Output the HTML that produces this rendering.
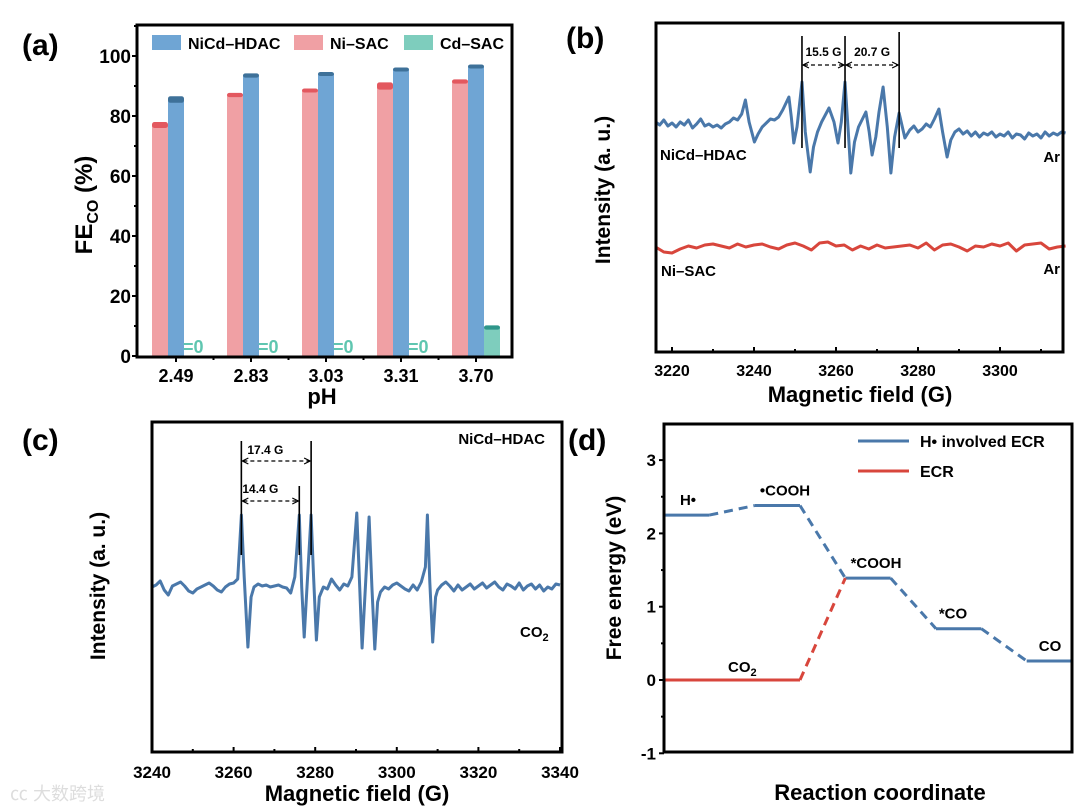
<!DOCTYPE html>
<html><head><meta charset="utf-8">
<style>
html,body{margin:0;padding:0;background:#fff;}
svg{display:block;font-family:"Liberation Sans","Noto Sans CJK SC",sans-serif;font-weight:bold;}
</style></head>
<body>
<svg id="fig" width="1080" height="808" viewBox="0 0 1080 808" xmlns="http://www.w3.org/2000/svg">
<rect width="1080" height="808" fill="#fff"/>
<text x="22" y="55" font-size="30">(a)</text>
<text x="566" y="48" font-size="30">(b)</text>
<text x="22" y="450" font-size="30">(c)</text>
<text x="568" y="450" font-size="30">(d)</text>
<g id="pa"></g>
<g id="pb"></g>
<g id="pc"></g>
<g id="pd"></g>
<text x="10" y="800" font-size="18" fill="#ddd" font-weight="normal">㏄ 大数跨境</text>
</svg>
<script>
// ---------- Panel (a) data ----------
const aCategories = ["2.49","2.83","3.03","3.31","3.70"];
const aNiSAC = [77, 87, 88.5, 90, 91.5];
const aNiSACErr = [1.0, 0.7, 0.6, 1.2, 0.7];
const aNiCd = [85.5, 93.5, 94, 95.5, 96.5];
const aNiCdErr = [1.1, 0.7, 0.6, 0.6, 0.6];
const aCdSAC = [0, 0, 0, 0, 9.5];
const aCdSACErr = [0, 0, 0, 0, 0.7];
const aYTicks = [0, 20, 40, 60, 80, 100];
// ---------- Panel (b) data ----------
const bNiCdField = [3216,3217,3218,3219,3220,3221,3222,3223,3224,3225,3226,3227,3228,3229,3230,3231,3232,3233,3234,3235,3236,3237,3237.9,3238.8,3240.1,3241,3242,3243,3244,3245,3246,3247,3248.5,3249.1,3249.7,3250.5,3251.7,3252.5,3253.7,3254.5,3255.5,3256.5,3258.3,3259.5,3260.5,3261.3,3262.2,3263,3263.6,3264.5,3265.5,3267.3,3268.1,3268.8,3269.7,3270.5,3271.5,3272.5,3273.4,3274.3,3275.4,3276.8,3278,3279,3280,3281,3282,3283,3284,3285.1,3286,3287.1,3288,3289,3290,3291,3292,3293,3294,3295,3296,3297,3298,3299,3300,3301,3302,3303,3304,3305,3306,3307,3308,3309,3310,3311,3312,3313,3314,3315,3316];
const bNiCdVal = [0,-3,2,-4,-1,-5,0,-3,2,-6,-2,3,-4,-2,-5,-3,-6,-2,0,4,2,8,22,0,-20,-12,-5,-1,3,2,5,12,25,5,-21,-5,40,-10,-50,-25,-10,0,14,0,-21,0,40,-10,-51,-20,-5,10,-10,-33,-15,10,35,-5,-51,-15,9,-16,-8,-4,-10,-7,-2,-5,3,13,-10,-35,-18,-10,-7,-12,-9,-14,-10,-15,-11,-13,-10,-15,-12,-14,-10,-16,-12,-13,-17,-11,-14,-12,-16,-10,-14,-11,-13,-10,-11];
const bNiField = [3216,3218,3220,3222,3224,3226,3228,3230,3232,3234,3236,3238,3240,3242,3244,3246,3248,3250,3252,3254,3256,3258,3260,3262,3264,3266,3268,3270,3272,3274,3276,3278,3280,3282,3284,3286,3288,3290,3292,3294,3296,3298,3300,3302,3304,3306,3308,3310,3312,3314,3316];
const bNiVal = [0,-5,-6,-2,1,-1,2,3,1,-1,3,0,2,3,0,-2,2,4,1,-3,4,5,1,2,-3,1,-2,2,-1,0,1,2,-1,4,-3,2,3,0,-4,1,0,3,1,4,-4,2,3,4,-2,0,1];
const bXTicks = [3220,3240,3260,3280,3300];
const bMarks = [3251.7, 3262.2, 3275.4];
const bSplitLabels = ["15.5 G","20.7 G"];
// ---------- Panel (c) data ----------
const cField = [3240,3241,3242,3243,3244,3245,3246,3247,3248,3249,3250,3251,3252,3253,3254,3255,3256,3257,3258,3259,3260,3261,3261.9,3262.6,3263.5,3264.3,3265,3266,3267,3268,3269,3270,3271,3272,3273,3274,3275,3276.1,3276.7,3277.3,3278,3279,3279.6,3280.3,3281,3282,3283,3284,3285,3286,3287,3288,3289,3290.2,3290.9,3291.5,3292.3,3293.2,3293.9,3294.6,3295.3,3296,3297,3298,3299,3300,3301,3302,3303,3304,3305,3306,3307,3307.5,3308.1,3308.8,3309.5,3310,3311,3312,3313,3314,3315,3316,3317,3318,3319,3320,3321,3322,3323,3324,3325,3326,3327,3328,3329,3330,3331,3332,3333,3334,3335,3336,3337,3338,3339,3340,3341];
const cVal = [0,2,6,-3,-8,1,3,5,1,-4,-6,-2,0,2,4,1,-3,-5,0,3,4,8,72,10,-60,-10,0,3,1,2,0,1,2,0,-1,-6,10,72,0,-50,0,72,10,-53,-10,0,-2,8,2,-3,3,1,10,74,0,-61,0,70,0,-62,-15,-5,0,-2,2,4,1,-2,-4,2,-3,5,20,72,5,-55,-10,-3,2,5,1,-4,2,-3,0,3,-2,1,4,-1,2,5,0,-3,3,1,-2,4,-3,1,3,-2,2,-4,0,-2,3,2,4];
const cXTicks = [3240,3260,3280,3300,3320,3340];
const cMarks = [3261.9, 3276.1, 3279];
const cSplitLabels = ["17.4 G","14.4 G"];
// ---------- Panel (d) data ----------
const dLevelNames = ["H•","•COOH","*COOH","*CO","CO"];
const dLevelStart = [0, 2, 4, 6, 8];
const dLevelEnd = [1, 3, 5, 7, 9];
const dLevelEnergy = [2.25, 2.38, 1.39, 0.70, 0.26];
const dEcrStart = [0];
const dEcrEnd = [3];
const dEcrEnergy = [0];
const dYTicks = [-1, 0, 1, 2, 3];

const NS = "http://www.w3.org/2000/svg";
function mk(parent, tag, attrs, txt){
  const e = document.createElementNS(NS, tag);
  for (const k in attrs) e.setAttribute(k, attrs[k]);
  if (txt !== undefined) e.textContent = txt;
  parent.appendChild(e);
  return e;
}

// ===== Panel (a) =====
(function(){
  const g = document.getElementById('pa');
  const L=137,R=512,T=25,B=357;
  const y = v => 356 - v*3.0;
  const cx = i => 176 + i*75;
  const bw = 16;
  for (let i=0;i<aCategories.length;i++){
    const specs = [[aNiSAC[i],aNiSACErr[i],-bw,'#f0a0a4','#e3585f','bar-ni-sac'],
                   [aNiCd[i],aNiCdErr[i],0,'#6fa5d4','#3e7199','bar-nicd-hdac'],
                   [aCdSAC[i],aCdSACErr[i],bw,'#7ecdbd','#2f968a','bar-cd-sac']];
    for (const s of specs){
      const x0 = cx(i) + s[2] - bw/2;
      if (s[0] > 0){
        const r = mk(g,'rect',{x:x0,y:y(s[0]),width:bw,height:y(0)-y(s[0]),fill:s[3]});
        
        
        const h = Math.max(4, y(s[0]-s[1])-y(s[0]+s[1]));
        const e = mk(g,'rect',{x:x0,y:y(s[0])-h/2,width:bw,height:h,fill:s[4],rx:2.5});
        
        
      } else {
        const t = mk(g,'text',{x:x0-1,y:353,'font-size':18,fill:'#5fc6b0'},'=0');
        
        
      }
    }
    const tl = mk(g,'text',{x:cx(i),y:382,'font-size':18,'text-anchor':'middle'},aCategories[i]);
    
    
    mk(g,'line',{x1:cx(i),x2:cx(i),y1:B,y2:B+5,stroke:'#000','stroke-width':2});
    if (i<aCategories.length-1) mk(g,'line',{x1:cx(i)+37.5,x2:cx(i)+37.5,y1:B,y2:B+3,stroke:'#000','stroke-width':2});
  }
  for (const v of aYTicks){
    mk(g,'line',{x1:L-5,x2:L,y1:y(v),y2:y(v),stroke:'#000','stroke-width':2});
    mk(g,'line',{x1:L-3,x2:L,y1:y(v+10),y2:y(v+10),stroke:'#000','stroke-width':2});
    const t = mk(g,'text',{x:L-6,y:y(v)+7,'font-size':19,'text-anchor':'end'},v);
    
    
  }
  mk(g,'rect',{x:L,y:T,width:R-L,height:B-T,fill:'none',stroke:'#000','stroke-width':3});
  const lg = [[152,'#6fa5d4','NiCd–HDAC'],[294,'#f0a0a4','Ni–SAC'],[404,'#7ecdbd','Cd–SAC']];
  for (const l of lg){
    const sw = mk(g,'rect',{x:l[0],y:35,width:29,height:15,fill:l[1]});
    
    
    const t = mk(g,'text',{x:l[0]+36,y:49,'font-size':16},l[2]);
    
    
  }
  const xt = mk(g,'text',{x:322,y:404,'font-size':22,'text-anchor':'middle'},'pH');
  
  
  const yt = mk(g,'text',{x:0,y:0,'font-size':24,transform:'translate(92,205) rotate(-90)','text-anchor':'middle'});
  
  
  mk(yt,'tspan',{},'FE');
  mk(yt,'tspan',{'font-size':16,dy:6},'CO');
  mk(yt,'tspan',{dy:-6},' (%)');
})();

function arrowLine(g, x1, x2, yy){
  mk(g,'line',{x1:x1+2,x2:x2-2,y1:yy,y2:yy,stroke:'#000','stroke-width':1.3,'stroke-dasharray':'4,3'});
  mk(g,'path',{d:`M${x1+7},${yy-3} L${x1+1},${yy} L${x1+7},${yy+3}`,fill:'none',stroke:'#000','stroke-width':1.2});
  mk(g,'path',{d:`M${x2-7},${yy-3} L${x2-1},${yy} L${x2-7},${yy+3}`,fill:'none',stroke:'#000','stroke-width':1.2});
}

// ===== Panel (b) =====
(function(){
  const g = document.getElementById('pb');
  const L=656,R=1063,T=23,B=352;
  const x = f => 672 + (f-3220)*4.1;
  let d='';
  bNiCdField.forEach((f,i)=>{ d += (i?'L':'M') + x(f).toFixed(1) + ',' + (122-bNiCdVal[i]) + ' '; });
  const p1 = mk(g,'path',{d:d,fill:'none',stroke:'#4a78aa','stroke-width':3,'stroke-linejoin':'round'});
  
  
  d='';
  bNiField.forEach((f,i)=>{ d += (i?'L':'M') + x(f).toFixed(1) + ',' + (247-bNiVal[i]) + ' '; });
  const p2 = mk(g,'path',{d:d,fill:'none',stroke:'#d8463c','stroke-width':3,'stroke-linejoin':'round'});
  
  
  bMarks.forEach((f,i)=>{
    const m = mk(g,'line',{x1:x(f),x2:x(f),y1:i==2?32:36,y2:148,stroke:'#000','stroke-width':1.6});
    
    
  });
  arrowLine(g, x(bMarks[0]), x(bMarks[1]), 65);
  arrowLine(g, x(bMarks[1]), x(bMarks[2]), 65);
  mk(g,'text',{x:(x(bMarks[0])+x(bMarks[1]))/2,y:56,'font-size':12,'text-anchor':'middle'},bSplitLabels[0]);
  mk(g,'text',{x:(x(bMarks[1])+x(bMarks[2]))/2,y:56,'font-size':12,'text-anchor':'middle'},bSplitLabels[1]);
  mk(g,'text',{x:660,y:160,'font-size':15},'NiCd–HDAC');
  mk(g,'text',{x:1060,y:162,'font-size':15,'text-anchor':'end'},'Ar');
  mk(g,'text',{x:661,y:276,'font-size':15},'Ni–SAC');
  mk(g,'text',{x:1060,y:274,'font-size':15,'text-anchor':'end'},'Ar');
  for (let f=3220; f<=3310; f+=10){
    mk(g,'line',{x1:x(f),x2:x(f),y1:B,y2:B-(f%20==0?5:3),stroke:'#000','stroke-width':2});
  }
  bXTicks.forEach(f=>{
    const t = mk(g,'text',{x:x(f),y:376,'font-size':16,'text-anchor':'middle'},f);
    
    
  });
  mk(g,'rect',{x:L,y:T,width:R-L,height:B-T,fill:'none',stroke:'#000','stroke-width':3});
  const xt = mk(g,'text',{x:860,y:402,'font-size':22,'text-anchor':'middle'},'Magnetic field (G)');
  
  
  const yt = mk(g,'text',{x:0,y:0,'font-size':21,transform:'translate(610,190) rotate(-90)','text-anchor':'middle'},'Intensity (a. u.)');
  
  
})();

// ===== Panel (c) =====
(function(){
  const g = document.getElementById('pc');
  const L=152,R=562,T=422,B=752;
  const x = f => 152 + (f-3240)*4.08;
  let d='';
  cField.forEach((f,i)=>{ if (f>3340.4) return; d += (i?'L':'M') + x(f).toFixed(1) + ',' + (587-cVal[i]) + ' '; });
  const p = mk(g,'path',{d:d,fill:'none',stroke:'#4a78aa','stroke-width':3,'stroke-linejoin':'round'});
  
  
  cMarks.forEach((f,i)=>{
    const m = mk(g,'line',{x1:x(f),x2:x(f),y1:i==1?486:441,y2:555,stroke:'#000','stroke-width':1.6});
    
    
  });
  arrowLine(g, x(cMarks[0]), x(cMarks[2]), 461);
  arrowLine(g, x(cMarks[0]), x(cMarks[1]), 501);
  mk(g,'text',{x:x(cMarks[0])+6,y:454,'font-size':12},cSplitLabels[0]);
  mk(g,'text',{x:x(cMarks[0])+1,y:493,'font-size':12},cSplitLabels[1]);
  mk(g,'text',{x:545,y:444,'font-size':15,'text-anchor':'end'},'NiCd–HDAC');
  const co = mk(g,'text',{x:520,y:637,'font-size':15});
  mk(co,'tspan',{},'CO');
  mk(co,'tspan',{'font-size':11,dy:4},'2');
  for (let f=3240; f<=3340; f+=10){
    mk(g,'line',{x1:x(f),x2:x(f),y1:B,y2:B-(f%20==0?5:3),stroke:'#000','stroke-width':2});
  }
  cXTicks.forEach(f=>{
    const t = mk(g,'text',{x:x(f),y:778,'font-size':17,'text-anchor':'middle'},f);
    
    
  });
  mk(g,'rect',{x:L,y:T,width:R-L,height:B-T,fill:'none',stroke:'#000','stroke-width':3});
  const xt = mk(g,'text',{x:357,y:801,'font-size':22,'text-anchor':'middle'},'Magnetic field (G)');
  
  
  const yt = mk(g,'text',{x:0,y:0,'font-size':21,transform:'translate(105,586) rotate(-90)','text-anchor':'middle'},'Intensity (a. u.)');
  
  
})();

// ===== Panel (d) =====
(function(){
  const g = document.getElementById('pd');
  const L=664,R=1072,T=424,B=752;
  const x = c => L + c*(R-L)/9;
  const y = e => 680 - e*73.3;
  const blue='#4a78aa', red='#d8463c';
  for (let i=0;i<dLevelEnergy.length;i++){
    const s = mk(g,'line',{x1:x(dLevelStart[i]),x2:x(dLevelEnd[i]),y1:y(dLevelEnergy[i]),y2:y(dLevelEnergy[i]),stroke:blue,'stroke-width':3});
    
    
    if (i<dLevelEnergy.length-1){
      const c = mk(g,'line',{x1:x(dLevelEnd[i]),x2:x(dLevelStart[i+1]),y1:y(dLevelEnergy[i]),y2:y(dLevelEnergy[i+1]),stroke:blue,'stroke-width':3,'stroke-dasharray':'9,6'});
      
      
    }
  }
  const e0 = mk(g,'line',{x1:x(dEcrStart[0]),x2:x(dEcrEnd[0]),y1:y(dEcrEnergy[0]),y2:y(dEcrEnergy[0]),stroke:red,'stroke-width':3});
  
  
  const ec = mk(g,'line',{x1:x(dEcrEnd[0]),x2:x(dLevelStart[2]),y1:y(dEcrEnergy[0]),y2:y(dLevelEnergy[2]),stroke:red,'stroke-width':3,'stroke-dasharray':'9,6'});
  
  
  const lblX = [688, 785, 876, 953, 1050];
  for (let i=0;i<dLevelNames.length;i++){
    const t = mk(g,'text',{x:lblX[i],y:y(dLevelEnergy[i])-10,'font-size':15,'text-anchor':'middle'},dLevelNames[i]);
    
    
  }
  const co = mk(g,'text',{x:728,y:y(0)-8,'font-size':15});
  mk(co,'tspan',{},'CO');
  mk(co,'tspan',{'font-size':11,dy:4},'2');
  dYTicks.forEach(v=>{
    mk(g,'line',{x1:L-5,x2:L,y1:y(v),y2:y(v),stroke:'#000','stroke-width':2});
    if (v<3) mk(g,'line',{x1:L-3,x2:L,y1:y(v+0.5),y2:y(v+0.5),stroke:'#000','stroke-width':2});
    const t = mk(g,'text',{x:L-8,y:y(v)+6,'font-size':17,'text-anchor':'end'},v);
    
    
  });
  mk(g,'rect',{x:L,y:T,width:R-L,height:B-T,fill:'none',stroke:'#000','stroke-width':3});
  mk(g,'line',{x1:858,x2:909,y1:441,y2:441,stroke:blue,'stroke-width':3});
  mk(g,'line',{x1:858,x2:909,y1:471,y2:471,stroke:red,'stroke-width':3});
  const l1 = mk(g,'text',{x:920,y:447,'font-size':16},'H• involved ECR');
  
  
  const l2 = mk(g,'text',{x:920,y:477,'font-size':16},'ECR');
  
  
  const xt = mk(g,'text',{x:880,y:800,'font-size':22,'text-anchor':'middle'},'Reaction coordinate');
  
  
  const yt = mk(g,'text',{x:0,y:0,'font-size':21,transform:'translate(621,578) rotate(-90)','text-anchor':'middle'},'Free energy (eV)');
  
  
})();
</script>
</body></html>
